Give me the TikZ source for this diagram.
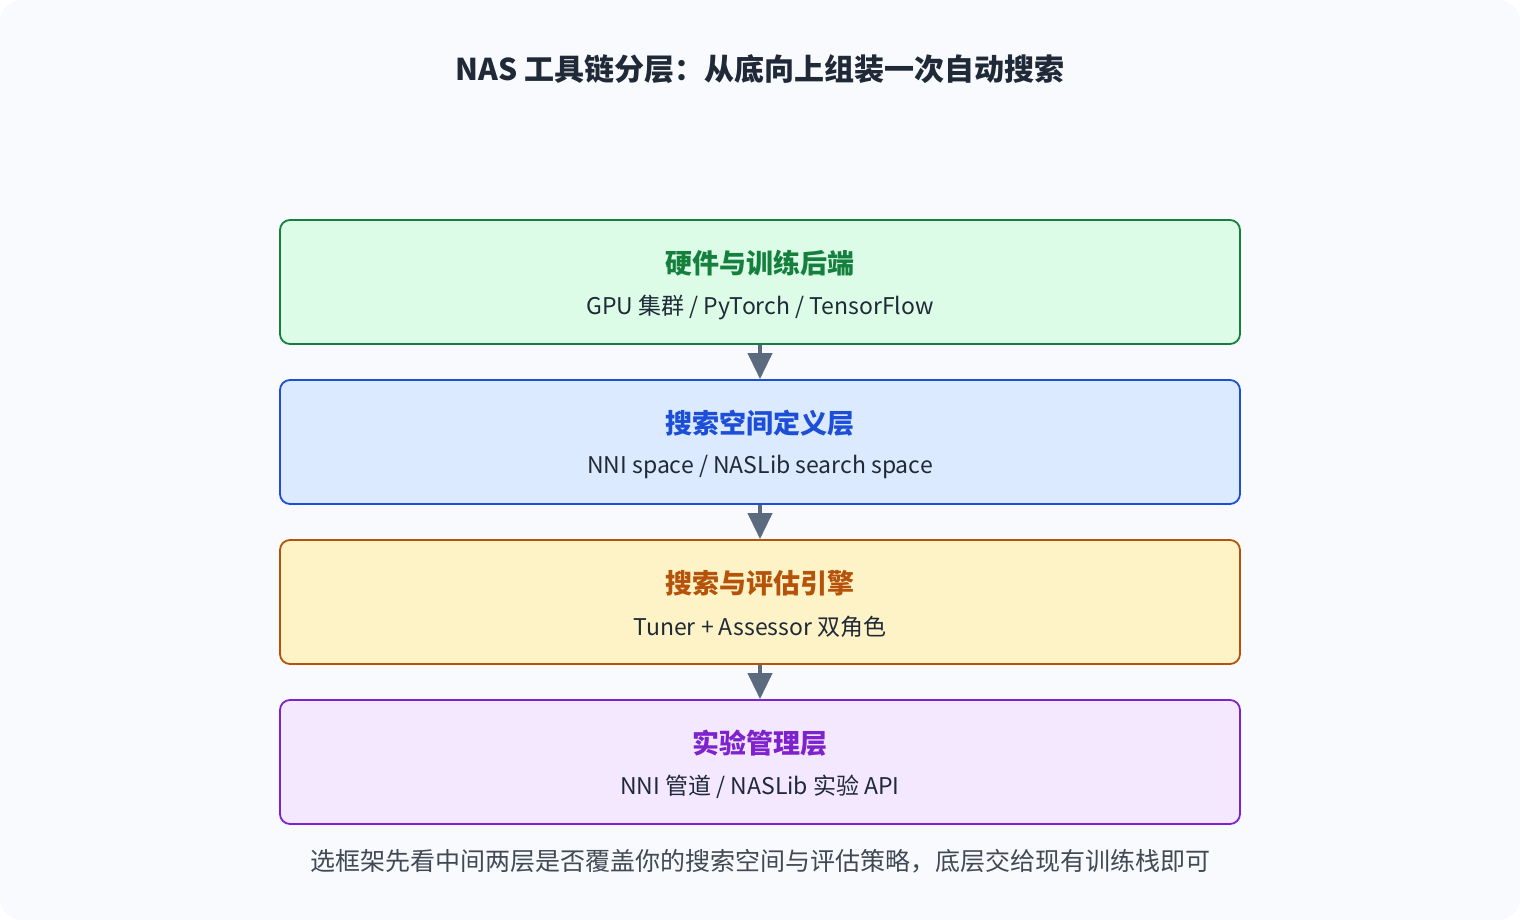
\documentclass[tikz,border=0pt]{standalone}
\usepackage{fontspec}
\setmainfont{Noto Sans CJK SC}
\usetikzlibrary{arrows.meta}
\definecolor{bg}{HTML}{F8FAFD}
\definecolor{ink}{HTML}{1F2937}
\definecolor{arr}{HTML}{5B6B7F}
\definecolor{gF}{HTML}{DCFCE7}\definecolor{gS}{HTML}{15803D}
\definecolor{bF}{HTML}{DBEAFE}\definecolor{bS}{HTML}{1D4ED8}
\definecolor{aF}{HTML}{FEF3C7}\definecolor{aS}{HTML}{B45309}
\definecolor{pF}{HTML}{F3E8FF}\definecolor{pS}{HTML}{7E22CE}
\begin{document}
\begin{tikzpicture}[x=1pt,y=-1pt,
 layer/.style={draw=#1,line width=1.8pt,rounded corners=10pt,minimum width=960pt,minimum height=124pt,inner sep=0pt},
 ttl/.style={font=\fontsize{27}{30}\selectfont\bfseries},
 sub/.style={font=\fontsize{23}{26}\selectfont,text=ink},
 flow/.style={draw=arr,line width=4pt,-{Triangle[length=26pt,width=24pt]},shorten >=0pt}]
\useasboundingbox (0,0) rectangle (1520,920);
\fill[white] (0,0) rectangle (1520,920);
\fill[bg,rounded corners=22pt] (0,0) rectangle (1520,920);
\node[font=\fontsize{30}{34}\selectfont\bfseries,text=ink] (title) at (760,69) {NAS 工具链分层：从底向上组装一次自动搜索};
\node[layer=gS,fill=gF] (l1) at (760,282) {};
\node[layer=bS,fill=bF] (l2) at (760,442) {};
\node[layer=aS,fill=aF] (l3) at (760,602) {};
\node[layer=pS,fill=pF] (l4) at (760,762) {};
\node[ttl,text=gS] (t1) at (760,263) {硬件与训练后端};
\node[sub] (s1) at (760,307) {GPU 集群 / PyTorch / TensorFlow};
\node[ttl,text=bS] (t2) at (760,423) {搜索空间定义层};
\node[sub] (s2) at (760,467) {NNI space / NASLib search space};
\node[ttl,text=aS] (t3) at (760,583) {搜索与评估引擎};
\node[sub] (s3) at (760,627) {Tuner + Assessor 双角色};
\node[ttl,text=pS] (t4) at (760,743) {实验管理层};
\node[sub] (s4) at (760,787) {NNI 管道 / NASLib 实验 API};
\draw[flow] (l1.south) -- (l2.north);
\draw[flow] (l2.south) -- (l3.north);
\draw[flow] (l3.south) -- (l4.north);
\node[font=\fontsize{25}{28}\selectfont,text=ink!85] (cap) at (760,861) {选框架先看中间两层是否覆盖你的搜索空间与评估策略，底层交给现有训练栈即可};
\end{tikzpicture}
\end{document}
